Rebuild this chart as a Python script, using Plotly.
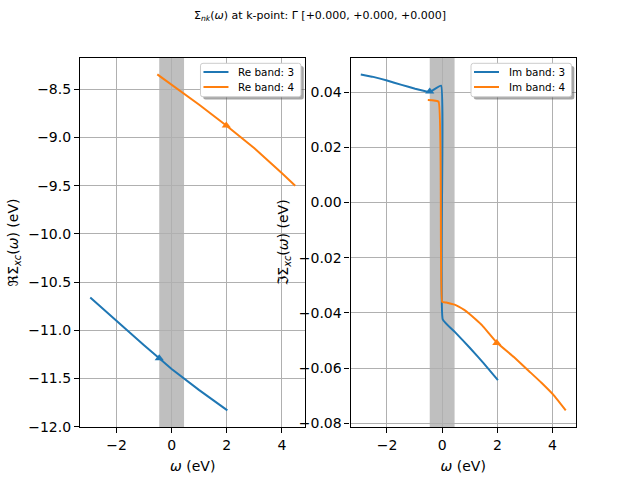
import plotly.graph_objects as go

# ---------------- data ----------------
omega_re3 = [-2.95, -2.0, -1.0, -0.45, 0.0, 1.0, 2.02]
re_band3 = [-10.66, -10.905, -11.155, -11.29, -11.40, -11.62, -11.83]
omega_re4 = [-0.52, 0.0, 1.0, 1.98, 3.0, 4.0, 4.48]
re_band4 = [-8.345, -8.45, -8.66, -8.875, -9.11, -9.37, -9.50]

omega_im3 = [-2.95, -2.5, -2.0, -1.47, -0.98, -0.68, -0.45, -0.04, 0.02,
             0.5, 1.0, 1.5, 2.02]
im_band3 = [0.0464, 0.0455, 0.0442, 0.0426, 0.0412, 0.0405, 0.0400,
            0.0423, -0.0423, -0.0473, -0.0526, -0.0582, -0.0643]
omega_im4 = [-0.52, -0.13, 0.0, 0.15, 0.29, 0.45, 0.6, 0.8, 0.97, 1.2, 1.45, 1.98,
             2.6, 3.16, 3.6, 4.08, 4.48]
im_band4 = [0.0371, 0.0365, -0.0360, -0.0362, -0.0366, -0.0370, -0.0377, -0.0389,
            -0.0402, -0.0422, -0.0445, -0.0507, -0.0560, -0.0612, -0.0653, -0.0702,
            -0.0753]

marker_omega = [-0.45, 1.98]
re_marker = [-11.29, -8.875]
im_marker = [0.0402, -0.0509]

shade_range = [-0.45, 0.45]

re_names = ["Re band: 3", "Re band: 4"]
im_names = ["Im band: 3", "Im band: 4"]
colors = ["#1f77b4", "#ff7f0e"]

title_text = "Σ<sub><i>nk</i></sub>(<i>ω</i>) at k-point: Γ [+0.000, +0.000, +0.000]"
xlabel = "<i>ω</i> (eV)"
ylabel_re = "ℜΣ<sub><i>xc</i></sub>(<i>ω</i>) (eV)"
ylabel_im = "ℑΣ<sub><i>xc</i></sub>(<i>ω</i>) (eV)"

W, H = 640, 480
AX1 = [0.125, 0.4773]
AX2 = [0.5477, 0.9]
AXY = [0.11, 0.88]


def padded(vals, frac=0.05):
    lo, hi = min(vals), max(vals)
    m = (hi - lo) * frac
    return [lo - m, hi + m]


FONT = "DejaVu Sans"
fig = go.Figure()

# Real part
for xs, ys, name, c in [(omega_re3, re_band3, re_names[0], colors[0]),
                        (omega_re4, re_band4, re_names[1], colors[1])]:
    fig.add_trace(go.Scatter(x=xs, y=ys, mode="lines", name=name, showlegend=False,
                             line=dict(color=c, width=2), xaxis="x", yaxis="y"))
fig.add_trace(go.Scatter(x=marker_omega, y=re_marker, mode="markers", showlegend=False,
                         marker=dict(symbol="triangle-up", size=8, color=colors),
                         xaxis="x", yaxis="y"))
# Imag part
for xs, ys, name, c in [(omega_im3, im_band3, im_names[0], colors[0]),
                        (omega_im4, im_band4, im_names[1], colors[1])]:
    fig.add_trace(go.Scatter(x=xs, y=ys, mode="lines", name=name, showlegend=False,
                             line=dict(color=c, width=2, shape="spline", smoothing=0.3),
                             xaxis="x2", yaxis="y2"))
fig.add_trace(go.Scatter(x=marker_omega, y=im_marker, mode="markers", showlegend=False,
                         marker=dict(symbol="triangle-up", size=8, color=colors),
                         xaxis="x2", yaxis="y2"))

xr1 = padded(omega_re3 + omega_re4)
xr2 = padded(omega_im3 + omega_im4)
yr1 = padded(re_band3 + re_band4)
yr2 = padded(im_band3 + im_band4)

axis_common = dict(showline=True, linecolor="black", linewidth=1.1, mirror=True,
                   ticks="outside", ticklen=5, tickwidth=1.1, tickcolor="black",
                   showgrid=True, gridcolor="#b0b0b0", gridwidth=0.8, zeroline=False,
                   tickfont=dict(family=FONT, size=14, color="black"),
                   automargin=False)

annotations = [dict(text=title_text, x=0.5, y=1 - 16 / H, xref="paper", yref="paper",
                    xanchor="center", yanchor="middle", showarrow=False,
                    font=dict(family=FONT, size=11))]

fig.update_layout(
    width=W, height=H,
    margin=dict(l=0, r=0, t=0, b=0),
    paper_bgcolor="white", plot_bgcolor="white",
    font=dict(family=FONT, color="black"),
    showlegend=False,
    xaxis=dict(domain=AX1, range=xr1, dtick=2, anchor="y",
               title=dict(text=xlabel, font=dict(size=14), standoff=9), **axis_common),
    yaxis=dict(domain=AXY, range=yr1, dtick=0.5, tickformat=".1f", anchor="x",
               title=dict(text=ylabel_re, font=dict(size=14), standoff=6), **axis_common),
    xaxis2=dict(domain=AX2, range=xr2, dtick=2, anchor="y2",
                title=dict(text=xlabel, font=dict(size=14), standoff=9), **axis_common),
    yaxis2=dict(domain=AXY, range=yr2, dtick=0.02, tickformat=".2f", anchor="x2",
                title=dict(text=ylabel_im, font=dict(size=14), standoff=6), **axis_common),
)

for xref, yref in [("x", "y domain"), ("x2", "y2 domain")]:
    fig.add_shape(type="rect", x0=shade_range[0], x1=shade_range[1], xref=xref,
                  y0=0, y1=1, yref=yref,
                  fillcolor="gray", opacity=0.5, line_width=0, layer="below")


# ---------------- legends (matplotlib-style boxes with shadow) ----------------
def px(x):
    return x / W


def py(y):
    return 1 - y / H


def rounded_path(x0, y0, x1, y1, r=2.5):
    # pixel coordinates -> paper path with rounded corners
    pts = [
        f"M {px(x0 + r)},{py(y0)}",
        f"L {px(x1 - r)},{py(y0)}",
        f"Q {px(x1)},{py(y0)} {px(x1)},{py(y0 + r)}",
        f"L {px(x1)},{py(y1 - r)}",
        f"Q {px(x1)},{py(y1)} {px(x1 - r)},{py(y1)}",
        f"L {px(x0 + r)},{py(y1)}",
        f"Q {px(x0)},{py(y1)} {px(x0)},{py(y1 - r)}",
        f"L {px(x0)},{py(y0 + r)}",
        f"Q {px(x0)},{py(y0)} {px(x0 + r)},{py(y0)}",
        "Z",
    ]
    return " ".join(pts)


LEG_W, LEG_H, LEG_TOP, LEG_PAD, SH = 100.5, 33.5, 63.3, 4.5, 2.8
for ax_dom, names in [(AX1, re_names), (AX2, im_names)]:
    right = ax_dom[1] * W - LEG_PAD
    left = right - LEG_W
    top, bottom = LEG_TOP, LEG_TOP + LEG_H
    fig.add_shape(type="path", xref="paper", yref="paper",
                  path=rounded_path(left + SH, top + SH, right + SH, bottom + SH),
                  fillcolor="rgba(77,77,77,0.5)", line_width=0, layer="above")
    fig.add_shape(type="path", xref="paper", yref="paper",
                  path=rounded_path(left, top, right, bottom),
                  fillcolor="white", line=dict(color="#cccccc", width=1), layer="above")
    for i, (name, c) in enumerate(zip(names, colors)):
        yc = top + 8.7 + 15 * i
        fig.add_shape(type="line", xref="paper", yref="paper",
                      x0=px(left + 3), x1=px(left + 28), y0=py(yc), y1=py(yc),
                      line=dict(color=c, width=2), layer="above")
        annotations.append(dict(text=name, x=px(left + 35.5), y=py(yc), xref="paper",
                                yref="paper", xanchor="left", yanchor="middle",
                                showarrow=False, font=dict(family=FONT, size=10.4)))

fig.update_layout(annotations=annotations)

fig.write_html("out.html", config={"displayModeBar": False},
               post_script="document.body.style.margin='0';")
